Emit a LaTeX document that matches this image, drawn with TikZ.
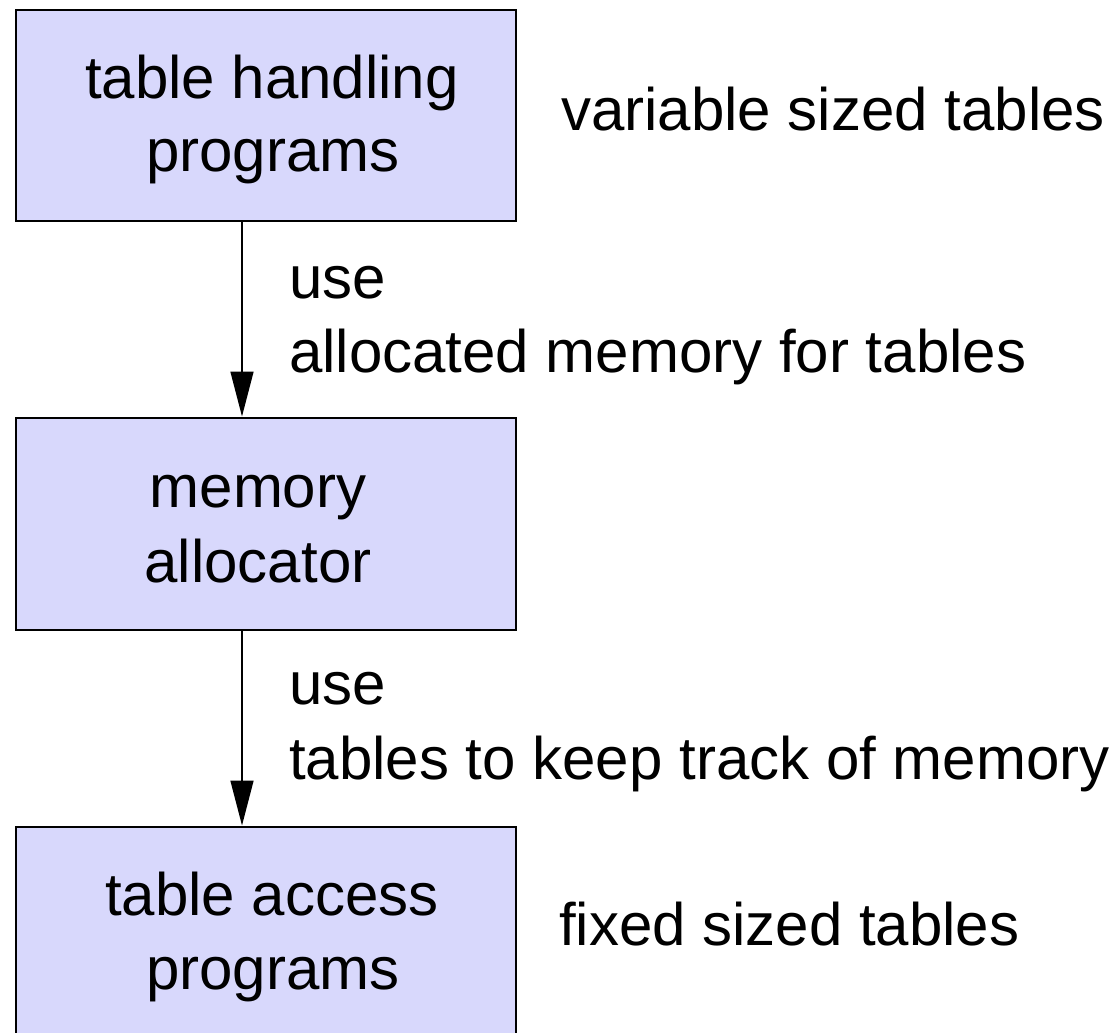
\documentclass[tikz,border=0pt]{standalone}
\usepackage{fontspec}
\setmainfont{Liberation Sans}
\usetikzlibrary{arrows.meta}
\definecolor{boxfill}{RGB}{216,216,252}
\tikzset{
  box/.style={draw=black, fill=boxfill, line width=1.6pt, rectangle,
    minimum width=500pt, inner sep=0pt, anchor=north west},
  txt/.style={inner sep=0pt, font=\fontsize{60}{74}\selectfont, anchor=base},
  lbl/.style={inner sep=0pt, font=\fontsize{60}{74}\selectfont, anchor=base west},
  flow/.style={line width=1.6pt, -{Triangle[length=45pt,width=23pt]}, shorten >=0.5pt}
}
\begin{document}
\begin{tikzpicture}[x=1pt,y=-1pt]
\useasboundingbox (0,0) rectangle (1119,1033);

% three stacked modules (the last one runs past the bottom edge)
\node[box, minimum height=211pt] (handling) at (15,9) {};
\node[box, minimum height=212pt] (alloc) at (15,417) {};
\node[box, minimum height=230pt] (access) at (15,826) {};

% module names
\node[txt] (h1) at (272,98) {table handling};
\node[txt] (h2) at (273,171) {programs};
\node[txt] (a1) at (258,507) {memory};
\node[txt] (a2) at (258,582) {allocator};
\node[txt] (c1) at (272,915) {table access};
\node[txt] (c2) at (273,989) {programs};

% side notes
\node[lbl] (var) at (561,130) {variable sized tables};
\node[lbl] (fix) at (559,945) {fixed sized tables};

% usage arrows between modules
\coordinate (s1) at (242,220);
\coordinate (e1) at (242,417);
\coordinate (s2) at (242,629);
\coordinate (e2) at (242,826);
\draw[flow] (s1) -- (e1);
\draw[flow] (s2) -- (e2);

% arrow labels
\node[lbl] (u1) at (289,298) {use};
\node[lbl] (u1b) at (289,372) {allocated memory for tables};
\node[lbl] (u2) at (289,704) {use};
\node[lbl] (u2b) at (289,779) {tables to keep track of memory};
\end{tikzpicture}
\end{document}
